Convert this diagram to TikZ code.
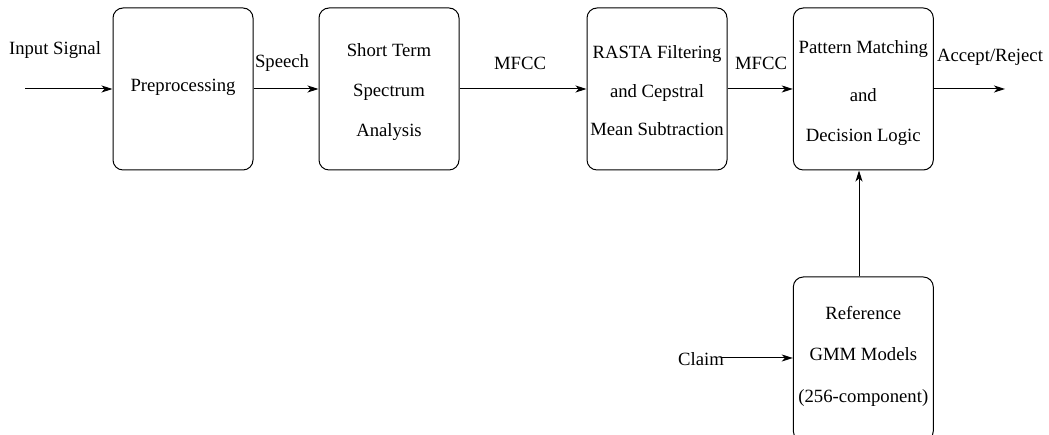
\documentclass[tikz,border=0pt]{standalone}
\usepackage{fontspec}
\setmainfont{Liberation Serif}
\usetikzlibrary{arrows.meta}
\tikzset{
  block/.style={draw, rounded corners=10pt, line width=1pt, minimum width=140pt, minimum height=162pt, inner sep=0pt},
  blocktext/.style={align=center, inner sep=0pt, font=\fontsize{18.7}{40}\selectfont},
  lbl/.style={inner sep=0pt, font=\fontsize{18.7}{22}\selectfont},
  flow/.style={line width=1pt, -{Stealth[length=11pt, width=7pt, inset=3pt]}}
}
\begin{document}
\begin{tikzpicture}[x=1pt, y=1pt]
  \useasboundingbox (0,0) rectangle (1049,435);

  % processing chain
  \node[block] (pre)  at (183,346) {};
  \node[block] (stsa) at (389,346) {};
  \node[block] (rasta) at (657,346) {};
  \node[block] (pm)   at (863.3,346) {};
  \node[block, minimum height=164pt] (gmm) at (863.3,76) {};

  \node[blocktext] (preT)  at (183,348) {Preprocessing};
  \node[blocktext] (stsaT) at (389,343) {Short Term\\Spectrum\\Analysis};
  \node[blocktext, font=\fontsize{18.7}{38.5}\selectfont] (rastaT) at (657,344) {RASTA Filtering\\and Cepstral\\Mean Subtraction};
  \node[blocktext] (pmT)   at (863.3,342) {Pattern Matching\\[8pt]and\\Decision Logic};
  \node[blocktext, font=\fontsize{18.7}{41.5}\selectfont] (gmmT) at (863.3,79) {Reference\\GMM Models\\(256-component)};

  % signal labels
  \node[lbl] (inL)   at (55,385)  {Input Signal};
  \node[lbl] (spL)   at (282,372) {Speech};
  \node[lbl] (mf1L)  at (520,372) {MFCC};
  \node[lbl] (mf2L)  at (761,372) {MFCC};
  \node[lbl] (outL)  at (990,378) {Accept/Reject};
  \node[lbl] (claim) at (701,76)  {Claim};

  % connectors
  \coordinate (src) at (25,346);
  \coordinate (dst) at (1005,346);
  \coordinate (claimEnd) at ([xshift=-2pt,yshift=1pt]claim.east);
  \draw[flow] (src) -- (pre.west);
  \draw[flow] (pre.east) -- (stsa.west);
  \draw[flow] (stsa.east) -- (rasta.west);
  \draw[flow] (rasta.east) -- (pm.west);
  \draw[flow] (pm.east) -- (dst);
  \draw[flow] ([xshift=-4.3pt]gmm.north) -- ([xshift=-4.3pt]pm.south);
  \draw[flow] (claimEnd) -- (gmm.west |- claimEnd);
\end{tikzpicture}
\end{document}
